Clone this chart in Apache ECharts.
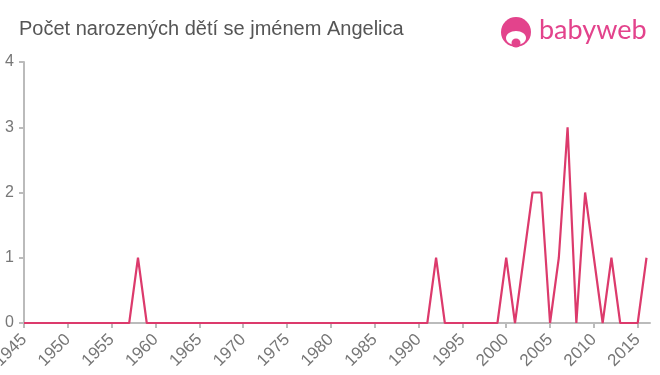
<!DOCTYPE html>
<html>
<head>
<meta charset="utf-8">
<script src="https://cdn.jsdelivr.net/npm/echarts@6/dist/echarts.min.js"></script>
<style>
html,body{margin:0;padding:0;background:#fff;}
#chart{width:660px;height:375px;}
</style>
</head>
<body>
<div id="chart"></div>
<script>
var title = 'Počet narozených dětí se jménem Angelica';
var years = [1945,1946,1947,1948,1949,1950,1951,1952,1953,1954,1955,1956,1957,1958,1959,
  1960,1961,1962,1963,1964,1965,1966,1967,1968,1969,1970,1971,1972,1973,1974,1975,1976,1977,1978,1979,
  1980,1981,1982,1983,1984,1985,1986,1987,1988,1989,1990,1991,1992,1993,1994,1995,1996,1997,1998,1999,
  2000,2001,2002,2003,2004,2005,2006,2007,2008,2009,2010,2011,2012,2013,2014,2015,2016];
var counts = [0,0,0,0,0,0,0,0,0,0,0,0,0,1,0,
  0,0,0,0,0,0,0,0,0,0,0,0,0,0,0,0,0,0,0,0,
  0,0,0,0,0,0,0,0,0,0,0,0,1,0,0,0,0,0,0,0,
  1,0,1,2,2,0,1,3,0,2,1,0,1,0,0,0,1];
var yTicks = [0,1,2,3,4];

var data = years.map(function(y,i){return [y, counts[i]];});
var chart = echarts.init(document.getElementById('chart'));
var font = '"Liberation Sans", Arial, sans-serif';
chart.setOption({
  animation:false,
  title:{text:title,left:14,top:14,textStyle:{fontFamily:font,fontSize:20,fontWeight:'normal',color:'#555'}},
  grid:{left:24,right:10,top:62,bottom:52,containLabel:false,outerBoundsMode:'none'},
  xAxis:{type:'value',min:1945,max:2016.4,interval:5,
    axisLine:{lineStyle:{color:'#bbb',width:2}},
    axisTick:{length:5,lineStyle:{color:'#bbb',width:2}},
    splitLine:{show:false},
    axisLabel:{rotate:45,fontFamily:font,fontSize:17,color:'#777',margin:14,showMaxLabel:false,hideOverlap:false,
      formatter:function(v){return String(v);}}
  },
  yAxis:{type:'value',min:yTicks[0],max:yTicks[yTicks.length-1],interval:1,
    axisLine:{show:true,lineStyle:{color:'#bbb',width:2}},
    axisTick:{show:true,length:5,lineStyle:{color:'#bbb',width:2}},
    splitLine:{show:false},
    axisLabel:{fontFamily:font,fontSize:16,color:'#777',margin:10}
  },
  series:[{type:'line',data:data,symbol:'none',lineStyle:{color:'#dc3a6c',width:2.2}}],
  graphic:[
    {type:'circle',shape:{cx:516,cy:32,r:15},style:{fill:'#e3438c'}},
    {type:'ellipse',shape:{cx:516,cy:38,rx:10,ry:7},style:{fill:'#fff'}},
    {type:'circle',shape:{cx:516,cy:43,r:4.5},style:{fill:'#e3438c'}},
    {type:'text',left:539,top:17,style:{text:'babyweb',font:'27px Lato, "Open Sans", sans-serif',fill:'#e3438c'}}
  ]
});
</script>
</body>
</html>
